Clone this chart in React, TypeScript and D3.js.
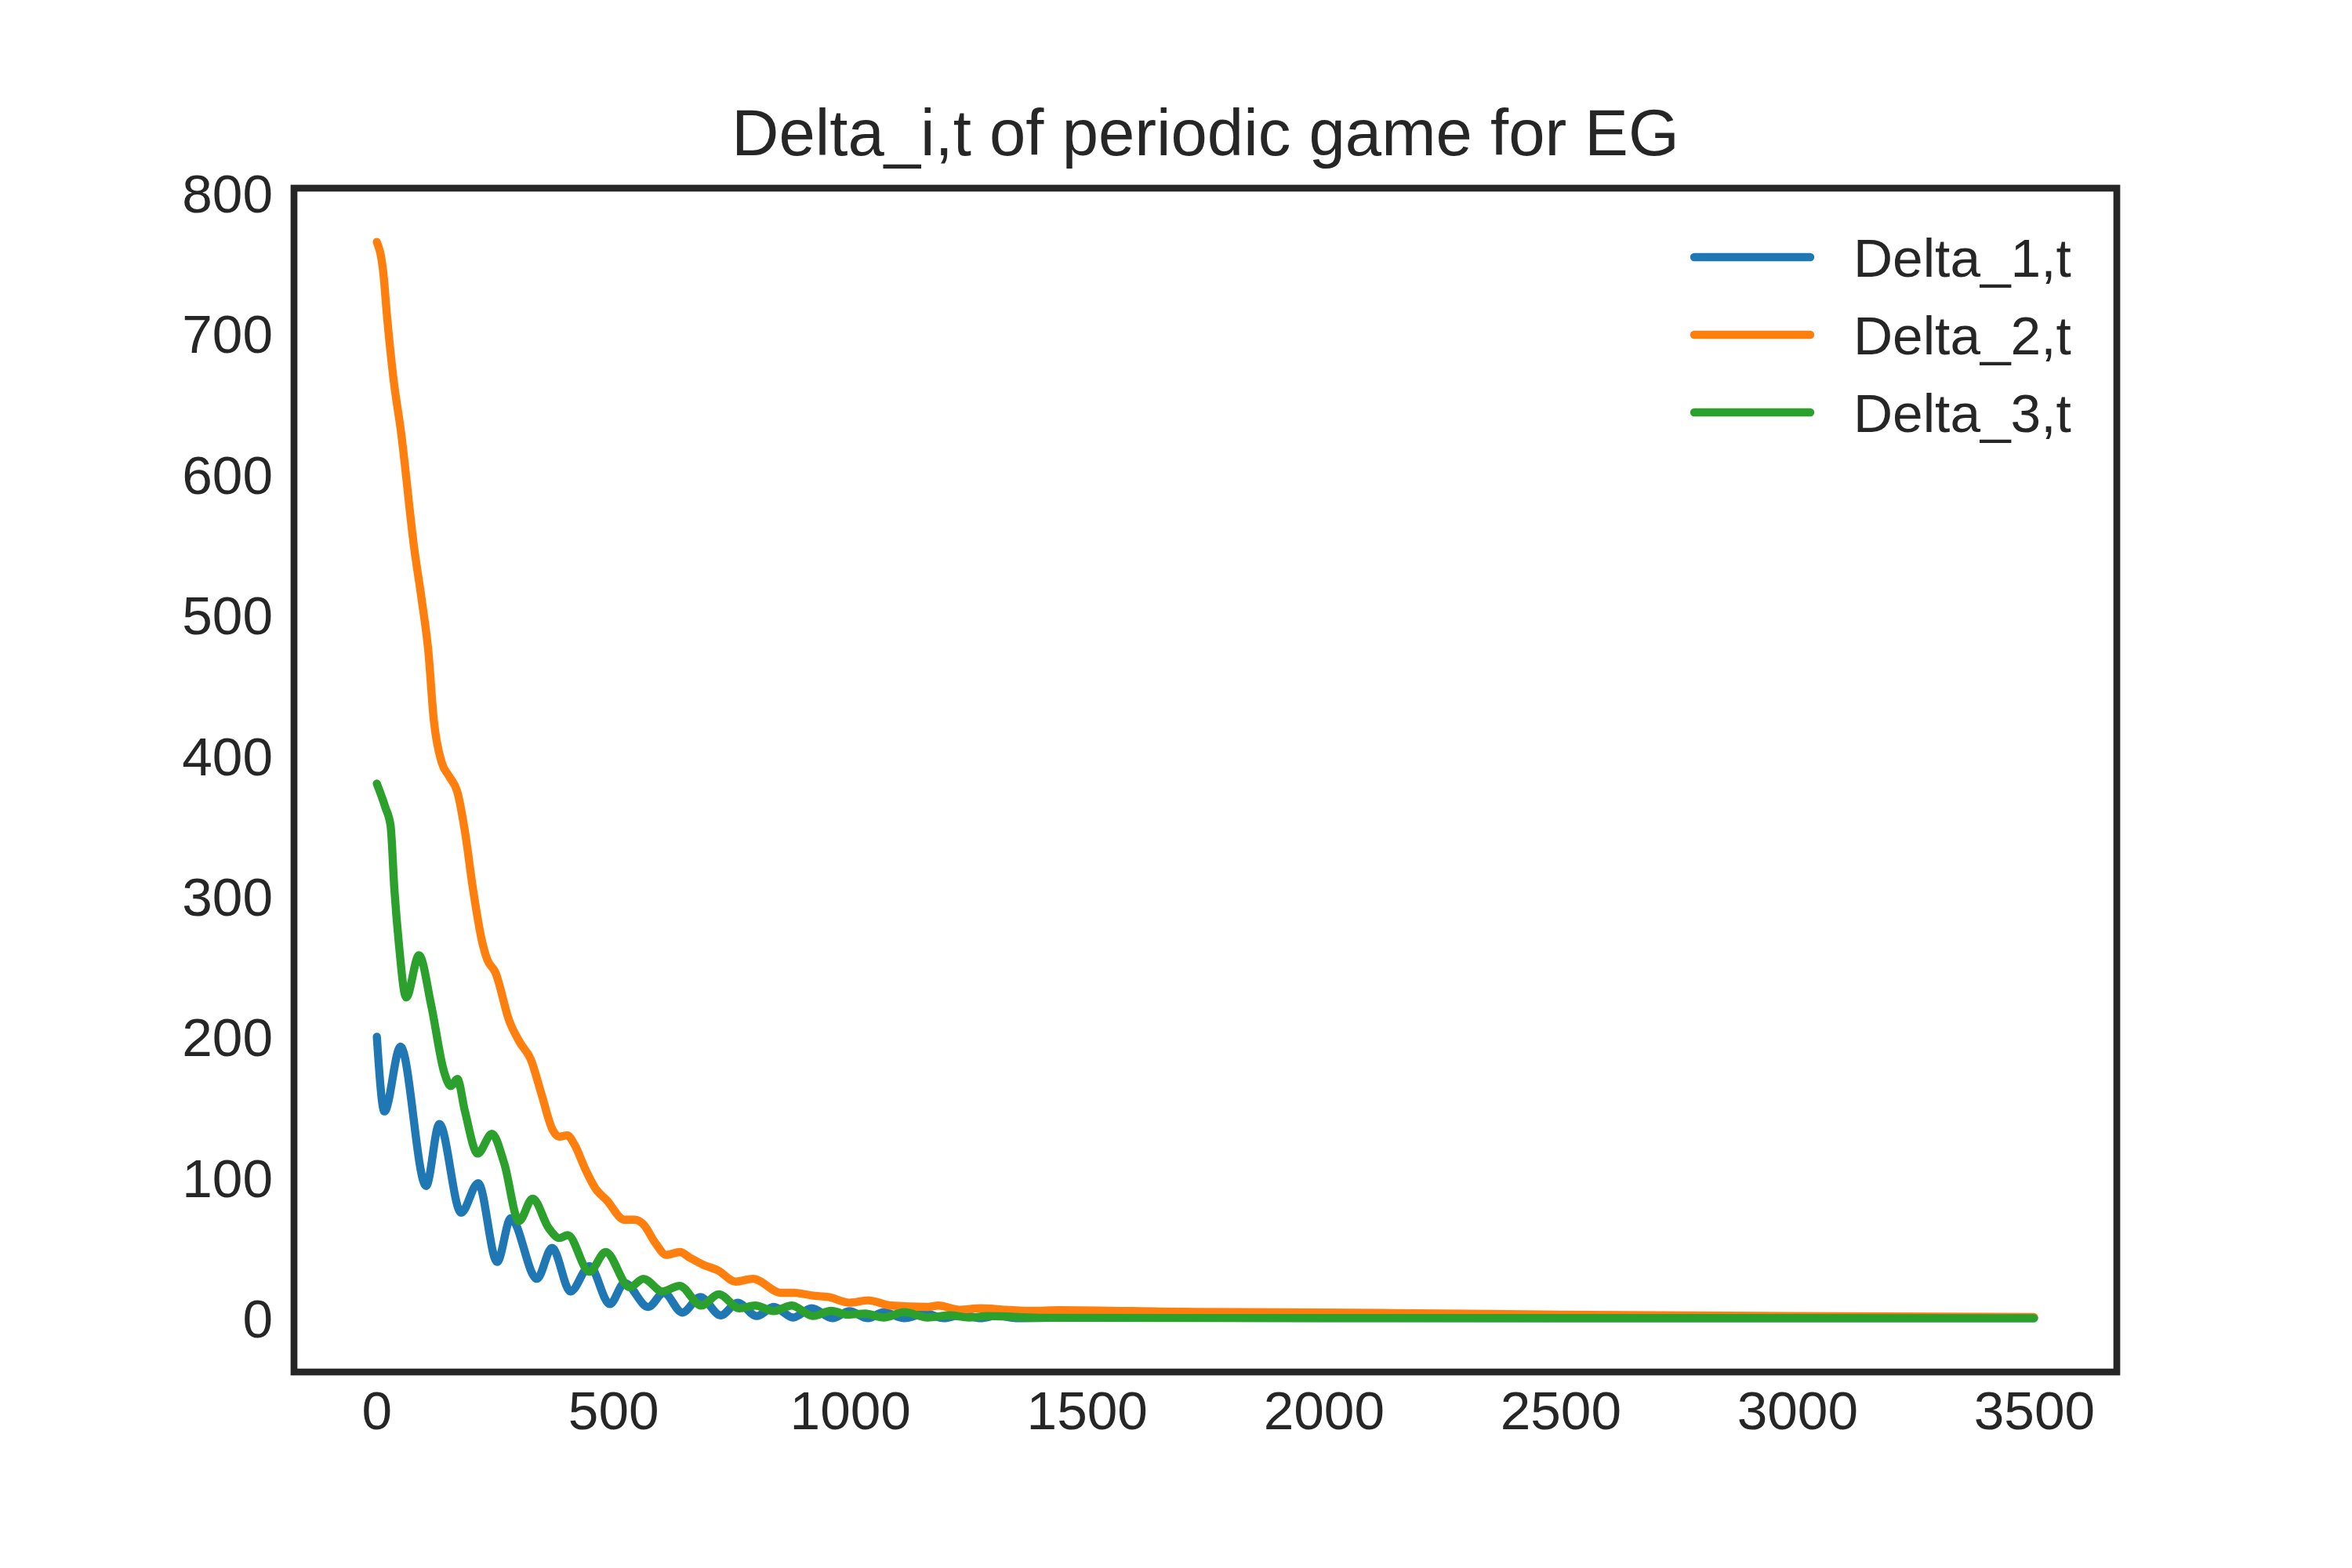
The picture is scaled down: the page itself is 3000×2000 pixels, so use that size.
import React from "react";
import * as d3 from "d3";

// ---- data ----
const xTicks = [0, 500, 1000, 1500, 2000, 2500, 3000, 3500];
const yTicks = [0, 100, 200, 300, 400, 500, 600, 700, 800];

const seriesNames = ["Delta_1,t", "Delta_2,t", "Delta_3,t"];
const seriesColors = ["#1f77b4", "#ff7f0e", "#2ca02c"];

const delta1T = [0, 16, 50, 104, 132, 178, 214, 254, 283, 338, 370, 409, 449, 492, 523, 573, 606, 645, 683, 726, 762, 802, 838, 879, 918, 962, 998, 1037, 1070, 1114, 1158, 1197, 1235, 1275, 1310, 1350, 1500, 2000, 2500, 3000, 3499];
const delta1V = [200, 147, 193, 94, 138, 75, 96, 40, 71, 28, 50, 19, 37, 10, 25, 8, 18, 4, 15, 2, 11, 1.5, 8, 0.5, 7, 0, 5, 0, 4.3, 0, 3.3, 0, 2.4, 0, 1.8, 0, 0.5, 0.2, 0.1, 0.05, 0];

const delta2T = [0, 14, 21, 35, 51, 79, 95, 109, 120, 137, 153, 170, 186, 203, 222, 233, 250, 280, 302, 325, 347, 371, 385, 402, 418, 440, 462, 485, 523, 545, 562, 589, 611, 640, 661, 689, 720, 758, 794, 854, 882, 921, 954, 998, 1037, 1086, 1163, 1186, 1230, 1274, 1329, 1384, 1440, 1700, 2000, 2200, 2500, 3000, 3499];
const delta2V = [765, 742, 714, 668, 630, 547, 510, 473, 426, 395, 385, 374, 346, 305, 268, 255, 246, 211, 196, 184, 160, 134, 129, 130, 123, 106, 92, 84, 70, 70, 67, 53, 45, 47, 43, 38, 34, 26, 28, 18, 18, 16, 15, 11, 12.7, 9, 8, 9, 6, 7, 6, 5.2, 5.7, 4.5, 4, 3.5, 2.5, 1.5, 0.8];

const delta3T = [0, 18, 29, 37, 46, 62, 89, 115, 142, 156, 170, 186, 213, 243, 269, 300, 329, 363, 385, 403, 449, 483, 534, 563, 603, 639, 685, 722, 766, 799, 838, 876, 921, 959, 995, 1031, 1070, 1114, 1163, 1210, 1250, 1290, 1400, 2000, 3499];
const delta3V = [380, 363, 350, 305, 268, 228, 258, 222, 175, 165, 170, 147, 117, 131, 110, 69, 85, 64, 57, 59, 33, 47, 22, 28, 19, 23, 9, 17, 7, 9, 5, 9, 1.5, 5.2, 2.5, 3.3, 0.5, 4.3, 0.5, 2, 0.5, 1.5, 0.3, 0.1, 0];

const titleText = "Delta_i,t of periodic game for EG";

// ---- layout ----
const W = 3000;
const H = 2000;
const AX_L = 375;
const AX_R = 2700;
const AX_T = 240;
const AX_B = 1750;
const TEXT = "#262626";
const FONT = "'Liberation Sans', Arial, sans-serif";
const FS = 69.4;
const TITLE_FS = 83.3;
const LW = 10.4;
const SPINE_W = 8.68;

export default function App() {
  const tMax = 3499;
  const vMax = 765;
  const x = d3.scaleLinear().domain([-0.05 * tMax, tMax * 1.05]).range([AX_L, AX_R]);
  const y = d3.scaleLinear().domain([-0.05 * vMax, vMax * 1.05]).range([AX_B, AX_T]);

  const line = d3
    .line<[number, number]>()
    .x((d) => x(d[0]))
    .y((d) => y(d[1]))
    .curve(d3.curveMonotoneX);

  const series = [
    { t: delta1T, v: delta1V },
    { t: delta2T, v: delta2V },
    { t: delta3T, v: delta3V },
  ];

  const legendX0 = 2161;
  const legendX1 = 2309;
  const legendTextX = 2364;
  const legendY0 = 328;
  const legendDY = 99;

  return (
    <svg
      width={W}
      height={H}
      viewBox={`0 0 ${W} ${H}`}
      style={{ position: "absolute", left: 0, top: 0, background: "#fff" }}
    >
      <rect x={0} y={0} width={W} height={H} fill="#fff" />
      <text
        x={(AX_L + AX_R) / 2}
        y={198}
        textAnchor="middle"
        fontFamily={FONT}
        fontSize={TITLE_FS}
        fill={TEXT}
      >
        {titleText}
      </text>

      {series.map((s, i) => (
        <path
          key={i}
          d={line(s.t.map((t, j) => [t, s.v[j]] as [number, number])) || ""}
          fill="none"
          stroke={seriesColors[i]}
          strokeWidth={LW}
          strokeLinecap="round"
          strokeLinejoin="round"
        />
      ))}

      <rect
        x={AX_L}
        y={AX_T}
        width={AX_R - AX_L}
        height={AX_B - AX_T}
        fill="none"
        stroke={TEXT}
        strokeWidth={SPINE_W}
        strokeLinecap="square"
      />

      {xTicks.map((t) => (
        <text
          key={"x" + t}
          x={x(t)}
          y={1823}
          textAnchor="middle"
          fontFamily={FONT}
          fontSize={FS}
          fill={TEXT}
        >
          {t}
        </text>
      ))}

      {yTicks.map((v) => (
        <text
          key={"y" + v}
          x={348}
          y={y(v) + 25}
          textAnchor="end"
          fontFamily={FONT}
          fontSize={FS}
          fill={TEXT}
        >
          {v}
        </text>
      ))}

      {seriesNames.map((name, i) => (
        <g key={name}>
          <line
            x1={legendX0}
            x2={legendX1}
            y1={legendY0 + i * legendDY}
            y2={legendY0 + i * legendDY}
            stroke={seriesColors[i]}
            strokeWidth={LW}
            strokeLinecap="round"
          />
          <text
            x={legendTextX}
            y={legendY0 + i * legendDY + 25}
            fontFamily={FONT}
            fontSize={FS}
            fill={TEXT}
          >
            {name}
          </text>
        </g>
      ))}
    </svg>
  );
}
